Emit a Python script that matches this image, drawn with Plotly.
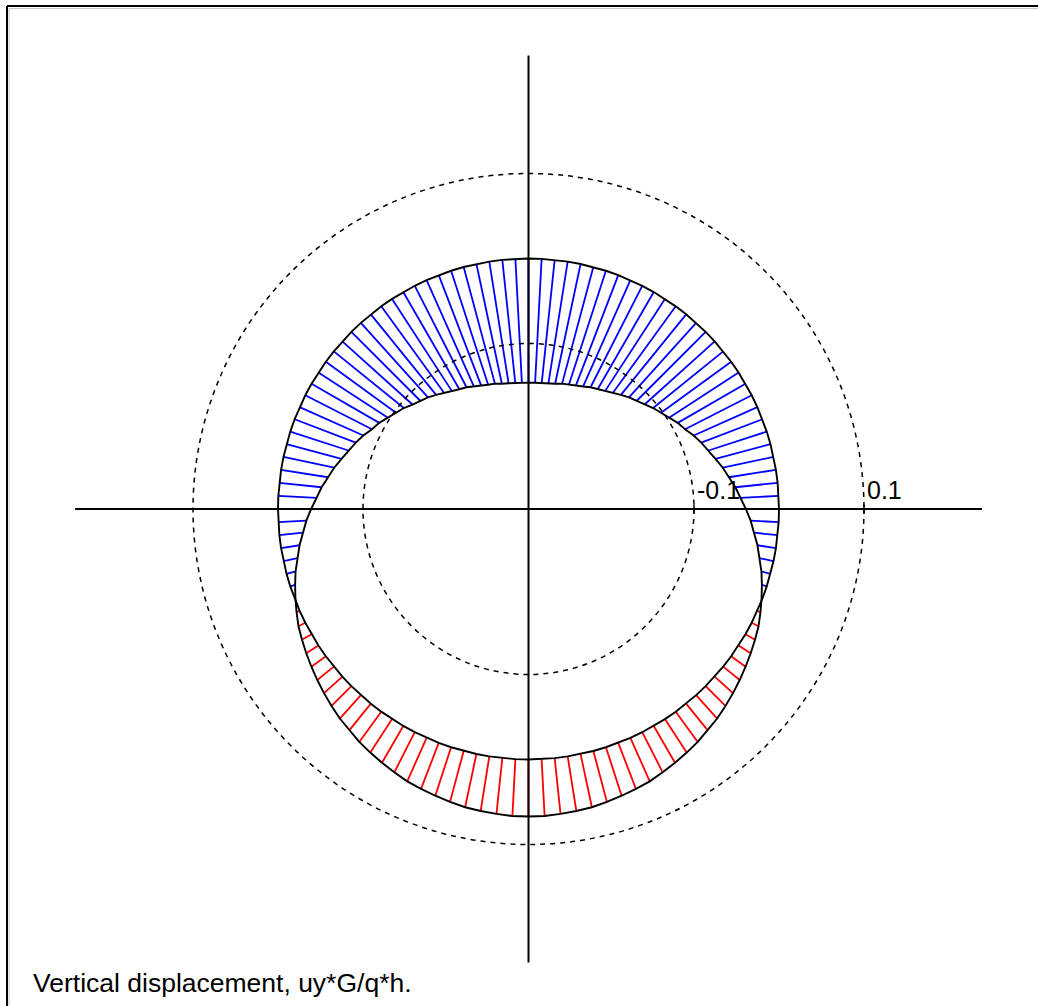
import numpy as np
import plotly.graph_objects as go

# Nodes around the opening, counter-clockwise from the +x direction (degrees)
angle_deg = list(range(0, 360, 3))

# Vertical displacement uy*G/(q*h) at each node
uy = [
    -0.039, -0.045, -0.050, -0.056, -0.061, -0.067, -0.072, -0.077, -0.082, -0.088,
    -0.092, -0.097, -0.102, -0.106, -0.111, -0.115, -0.118, -0.122, -0.126, -0.129,
    -0.132, -0.134, -0.137, -0.139, -0.141, -0.142, -0.144, -0.145, -0.145, -0.146,
    -0.146, -0.146, -0.145, -0.145, -0.144, -0.142, -0.141, -0.139, -0.137, -0.134,
    -0.132, -0.129, -0.126, -0.122, -0.118, -0.115, -0.111, -0.106, -0.102, -0.097,
    -0.092, -0.088, -0.082, -0.077, -0.072, -0.067, -0.061, -0.056, -0.050, -0.045,
    -0.039, -0.033, -0.028, -0.022, -0.017, -0.011, -0.006, -0.001, 0.004, 0.009,
    0.013, 0.017, 0.021, 0.025, 0.029, 0.033, 0.037, 0.040, 0.044, 0.047,
    0.050, 0.053, 0.056, 0.058, 0.060, 0.062, 0.064, 0.065, 0.066, 0.067,
    0.067, 0.067, 0.066, 0.065, 0.064, 0.062, 0.060, 0.058, 0.056, 0.053,
    0.050, 0.047, 0.044, 0.040, 0.037, 0.033, 0.029, 0.025, 0.021, 0.017,
    0.013, 0.009, 0.004, -0.001, -0.006, -0.011, -0.017, -0.022, -0.028, -0.033,
]

# Reference rings and their labels
ring_levels = [-0.1, 0.1]
ring_labels = ["-0.1", "0.1"]

caption = "Vertical displacement, uy*G/q*h."

# Drawing geometry (opening radius = 1, displacement magnified)
R0 = 1.0
DISP_SCALE = 3.393
AXIS_HALF = 1.81
FONT = "Liberation Sans, Arial, sans-serif"

th = np.radians(angle_deg)
u = np.array(uy)
xb, yb = R0 * np.cos(th), R0 * np.sin(th)
rd = R0 + DISP_SCALE * u
xd, yd = rd * np.cos(th), rd * np.sin(th)


def hatch(mask):
    xs, ys = [], []
    for i in np.where(mask)[0]:
        xs += [xb[i], xd[i], None]
        ys += [yb[i], yd[i], None]
    return xs, ys


fig = go.Figure()

for mask, col in [(u < 0, "#0000ff"), (u > 0, "#ff0000")]:
    hx, hy = hatch(mask)
    fig.add_trace(go.Scatter(x=hx, y=hy, mode="lines",
                             line=dict(color=col, width=1.8),
                             hoverinfo="skip", showlegend=False))

# opening outline and displaced outline
for ox, oy in [(xb, yb), (xd, yd)]:
    fig.add_trace(go.Scatter(x=list(ox) + [ox[0]], y=list(oy) + [oy[0]],
                             mode="lines", line=dict(color="black", width=1.9),
                             hoverinfo="skip", showlegend=False))

# dashed reference rings
for lv in ring_levels:
    r = R0 + DISP_SCALE * lv
    fig.add_shape(type="circle", xref="x", yref="y", x0=-r, x1=r, y0=-r, y1=r,
                  line=dict(color="black", width=1.5, dash="5px,5px"))

# crossing axes
fig.add_shape(type="line", xref="x", yref="y", x0=-AXIS_HALF, x1=AXIS_HALF, y0=0, y1=0,
              line=dict(color="black", width=2))
fig.add_shape(type="line", xref="x", yref="y", x0=0, x1=0, y0=-AXIS_HALF, y1=AXIS_HALF,
              line=dict(color="black", width=2))

# ring labels on the horizontal axis
for lv, txt in zip(ring_levels, ring_labels):
    r = R0 + DISP_SCALE * lv
    fig.add_shape(type="line", xref="x", yref="y", x0=r, x1=r, y0=-0.018, y1=0.018,
                  line=dict(color="black", width=1.5))
    fig.add_annotation(x=r, y=0, xref="x", yref="y", text=txt, showarrow=False,
                       xanchor="left", yanchor="bottom", xshift=1, yshift=3,
                       font=dict(family=FONT, size=25, color="black"))

# caption
fig.add_annotation(x=31 / 1038, y=1 - 983 / 1006, xref="paper", yref="paper",
                   text=caption, showarrow=False, xanchor="left", yanchor="middle",
                   font=dict(family=FONT, size=26.5, color="black"))

# window frame (top and left edges)
fig.add_shape(type="line", xref="paper", yref="paper", x0=7 / 1038, x1=1.0,
              y0=1 - 6 / 1006, y1=1 - 6 / 1006, line=dict(color="black", width=2))
fig.add_shape(type="line", xref="paper", yref="paper", x0=7 / 1038, x1=7 / 1038,
              y0=0, y1=1 - 6 / 1006, line=dict(color="black", width=2))
fig.add_shape(type="line", xref="paper", yref="paper", x0=9 / 1038, x1=1.0,
              y0=1 - 8.5 / 1006, y1=1 - 8.5 / 1006, line=dict(color="#c8c8c8", width=1))
fig.add_shape(type="line", xref="paper", yref="paper", x0=9 / 1038, x1=9 / 1038,
              y0=0, y1=1 - 8.5 / 1006, line=dict(color="#c8c8c8", width=1))

PX = 250.5  # pixels per unit radius
CX, CY = 528.5, 509.0
fig.update_layout(
    width=1038, height=1006, autosize=False,
    margin=dict(l=0, r=0, t=0, b=0),
    paper_bgcolor="white", plot_bgcolor="white",
    xaxis=dict(range=[-CX / PX, (1038 - CX) / PX], visible=False, fixedrange=True),
    yaxis=dict(range=[-(1006 - CY) / PX, CY / PX], visible=False, fixedrange=True),
    showlegend=False,
)

fig.write_html("out.html")
